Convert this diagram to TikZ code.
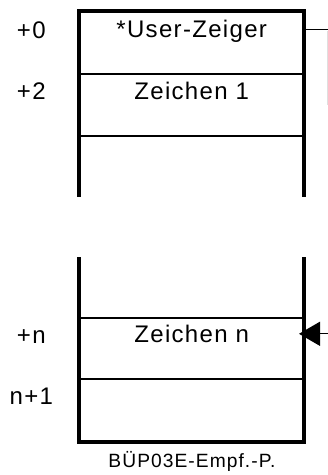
\documentclass[tikz,border=0pt]{standalone}
\usepackage{fontspec}
\setmainfont{Liberation Sans}
% slightly spaced-out lettering for all labels
\newfontfamily\labelfont[LetterSpace=5.5]{Liberation Sans}
\usetikzlibrary{arrows.meta}
\begin{document}
\begin{tikzpicture}[x=1pt,y=-1pt,
  frame/.style={line width=3.7pt,line join=miter},
  rowline/.style={line width=2pt},
  celltext/.style={anchor=base,inner sep=0pt,font=\labelfont\fontsize{24}{28}\selectfont},
  offset/.style={anchor=base,inner sep=0pt,font=\labelfont\fontsize{24}{28}\selectfont},
  caption/.style={anchor=base,inner sep=0pt,font=\labelfont\fontsize{19.2}{23}\selectfont},
  pointer/.style={line width=1.3pt}]
  \useasboundingbox (0,0) rectangle (328,475);
  % upper part of the buffer
  \draw[frame] (79.2,196.7) -- (79.2,11.3) -- (304.2,11.3) -- (304.2,196.7);
  \draw[rowline] (79.2,74) -- (304.2,74);
  \draw[rowline] (79.2,136) -- (304.2,136);
  % lower part of the buffer
  \draw[frame] (79.2,257) -- (79.2,441.7) -- (304.2,441.7) -- (304.2,257);
  \draw[rowline] (79.2,318) -- (304.2,318);
  \draw[rowline] (79.2,379) -- (304.2,379);
  % cell contents
  \node[celltext] (ptr) at (191.7,37.5) {*User-Zeiger};
  \node[celltext] (z1) at (191.7,99.5) {Zeichen 1};
  \node[celltext] (zn) at (191.7,342.5) {Zeichen n};
  % offsets
  \node[offset] (o0) at (31.3,38.3) {+0};
  \node[offset] (o2) at (31.3,99.3) {+2};
  \node[offset] (on) at (31.3,343.3) {+n};
  \node[offset] (on1) at (31.3,404) {n+1};
  \node[caption] (cap) at (192,467.3) {BÜP03E-Empf.-P.};
  % pointer lines at the right edge
  \coordinate (ptrEdge) at (306,29.5);
  \coordinate (ptrOut) at (328,29.5);
  \draw[pointer] (ptrEdge) -- (ptrOut);
  \draw[gray!25,line width=0.8pt] (327.4,31) -- (327.4,105);
  \coordinate (znEdge) at (299,333.8);
  \coordinate (znIn) at (328,333.8);
  \draw[pointer,-{Triangle[length=21pt,width=24pt]}] (znIn) -- (znEdge);
\end{tikzpicture}
\end{document}
